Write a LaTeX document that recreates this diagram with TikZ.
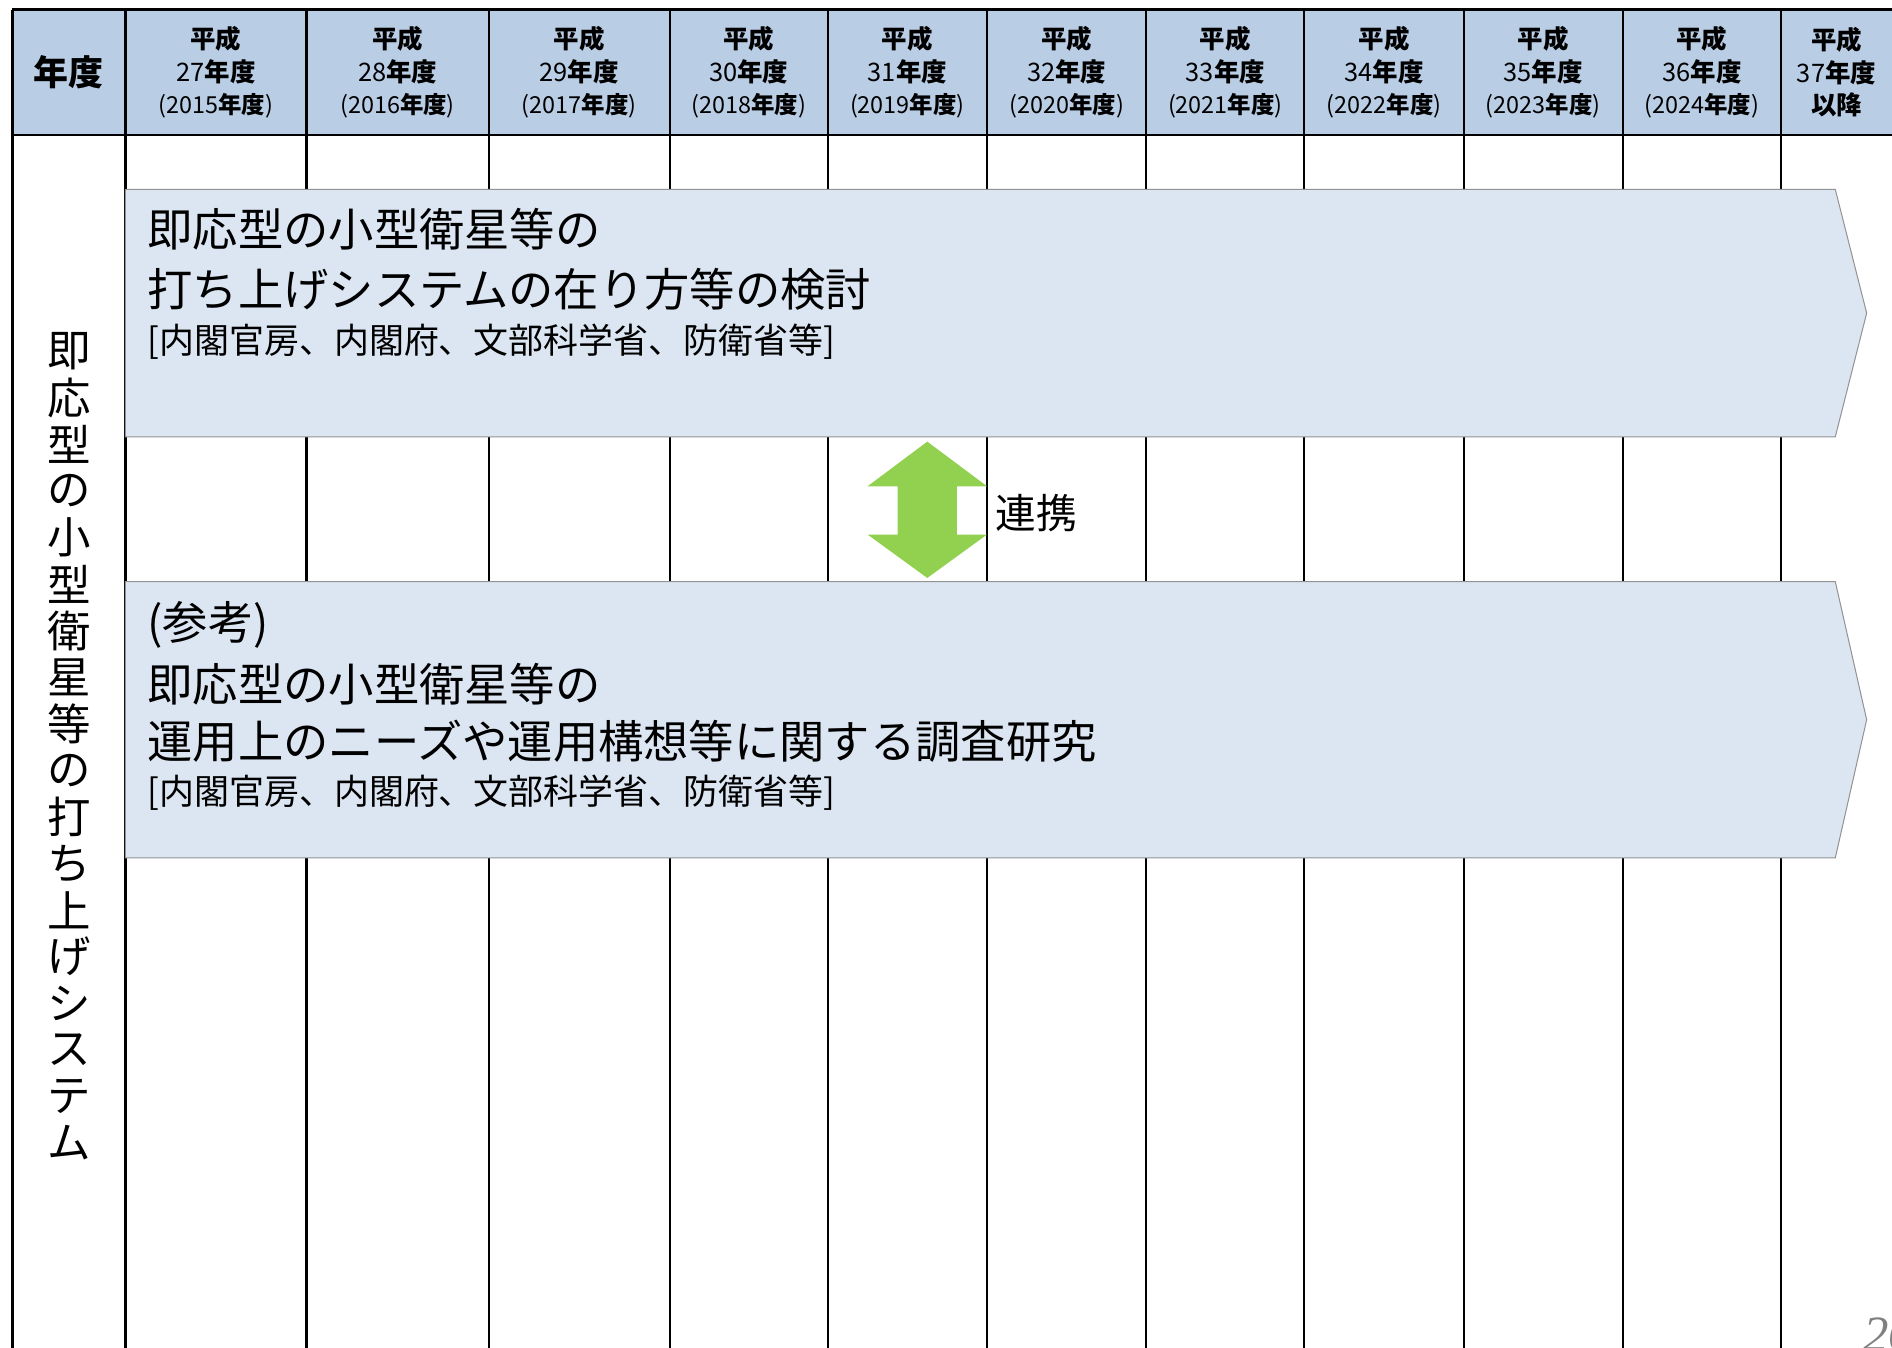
\documentclass[tikz,border=0pt]{standalone}
\usepackage{fontspec}
\setmainfont{Noto Sans CJK JP}
\newfontfamily\pagefont{Liberation Serif}
\definecolor{hdrblue}{HTML}{B9CDE5}
\definecolor{bandblue}{HTML}{DCE6F2}
\definecolor{linkgreen}{HTML}{92D050}
\newcommand{\nendo}{{\bfseries 年度}}

\begin{document}
\begin{tikzpicture}[x=0.025cm, y=-0.025cm,
  hdr/.style={align=center, inner sep=0pt, font=\fontsize{15}{19.2}\selectfont},
  band/.style={fill=bandblue, draw=gray!85, line width=0.6pt},
  bigline/.style={anchor=west, inner sep=0pt, font=\fontsize{26.7}{30}\selectfont},
  smallline/.style={anchor=west, inner sep=0pt, font=\fontsize{20.6}{24}\selectfont},
  sidechar/.style={inner sep=0pt, font=\fontsize{25.6}{30}\selectfont}]
\def\xl{10};
\def\xr{1580};
\def\ytop{8};
\def\yhead{112};
\def\ybot{1125};
\def\xin{122};

\useasboundingbox (0,0) rectangle (1568,1117);
\clip (0,0) rectangle (1568,1117);

% table
\fill[hdrblue] (\xl,\ytop) rectangle (\xr,\yhead);
\foreach \x in {104,254,405,555,686,818,950,1081,1213,1345,1476}
  \draw[line width=1.2pt] (\x,\ytop) -- (\x,\ybot);
\draw[line width=1.8pt] (\xl,\ytop) -- (\xr,\ytop);
\draw[line width=1.6pt] (\xl,\yhead) -- (\xr,\yhead);
\draw[line width=1.8pt] (\xl,\ytop) -- (\xl,\ybot);

% header
\node[font=\fontsize{20.6}{24}\selectfont\bfseries] (nendo) at (57,60) {年度};
\foreach \cx/\wa/\ad in {179/27/2015, 329.5/28/2016, 480/29/2017, 620.5/30/2018, 752/31/2019,
                         884/32/2020, 1015.5/33/2021, 1147/34/2022, 1279/35/2023, 1410.5/36/2024}
  \node[hdr] (h\wa) at (\cx,60) {{\bfseries 平成}\\\wa\nendo\\{\fontsize{13.8}{19.2}\selectfont(\ad\nendo)}};
\node[hdr] (h37) at (1522,60) {{\bfseries 平成}\\37\nendo\\{\bfseries 以降}};

% left column, one character per line
\foreach \ch [count=\i from 0] in {即,応,型,の,小,型,衛,星,等,の,打,ち,上,げ,シ,ス,テ,ム}
  \node[sidechar] (side\i) at (57,{291+38.6*\i}) {\ch};

% bands
\filldraw[band] (104,157) -- (1521,157) -- (1547,259.5) -- (1521,362) -- (104,362) -- cycle;
\filldraw[band] (104,482) -- (1521,482) -- (1547,596.5) -- (1521,711) -- (104,711) -- cycle;

\node[bigline] (plan1) at (\xin,190) {即応型の小型衛星等の};
\node[bigline] (plan2) at (\xin,240) {打ち上げシステムの在り方等の検討};
\node[smallline] (plan3) at (\xin,283) {[内閣官房、内閣府、文部科学省、防衛省等]};

\node[bigline] (ref0) at (\xin,518) {(参考)};
\node[bigline] (ref1) at (\xin,567) {即応型の小型衛星等の};
\node[bigline] (ref2) at (\xin,614) {運用上のニーズや運用構想等に関する調査研究};
\node[smallline] (ref3) at (\xin,657) {[内閣官房、内閣府、文部科学省、防衛省等]};

% link arrow
\fill[linkgreen] (768.5,366) -- (818,403) -- (793,403) -- (793,443) -- (818,443)
  -- (768.5,479) -- (719,443) -- (744,443) -- (744,403) -- (719,403) -- cycle;
\node[anchor=west, inner sep=0pt, font=\fontsize{24}{28}\selectfont] (renkei) at (825,425) {連携};

\node[anchor=north west, inner sep=0pt, text=gray, font=\pagefont\itshape\fontsize{30}{34}\selectfont] (pageno) at (1544,1092) {26};
\end{tikzpicture}
\end{document}
